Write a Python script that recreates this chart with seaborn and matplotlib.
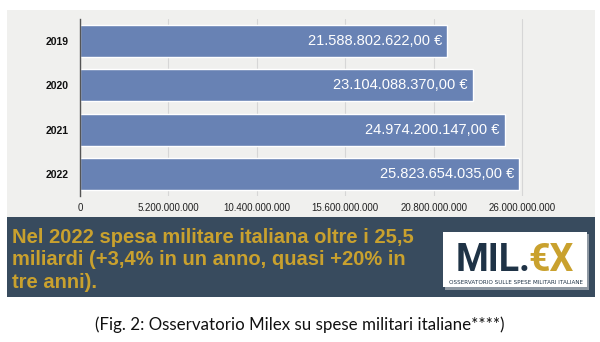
import matplotlib
matplotlib.use("Agg")
import matplotlib.pyplot as plt
from matplotlib.patches import Rectangle
from matplotlib.ticker import FuncFormatter
import seaborn as sns
import pandas as pd

# ---- data ----
anni = ["2019", "2020", "2021", "2022"]
spesa = [21588802622, 23104088370, 24974200147, 25823654035]
etichette = ["21.588.802.622,00 €", "23.104.088.370,00 €",
             "24.974.200.147,00 €", "25.823.654.035,00 €"]
x_ticks = [0, 5200000000, 10400000000, 15600000000, 20800000000, 26000000000]
titolo = "Nel 2022 spesa militare italiana oltre i 25,5\nmiliardi (+3,4% in un anno, quasi +20% in\ntre anni)."
didascalia = "(Fig. 2: Osservatorio Milex su spese militari italiane****)"

BAR = "#6882b4"
PANEL = "#f0f0ee"
BAND = "#384b5e"
GOLD = "#c9a12e"
NAVY = "#1f3346"

sns.set_theme(style="white")
plt.rcParams["font.family"] = ["Liberation Sans", "DejaVu Sans"]

W, H = 600, 342
fig = plt.figure(figsize=(W / 100, H / 100), dpi=100)
fig.patch.set_facecolor("white")

def fx(px):
    return px / W

def fy(py):
    return 1 - py / H

# grey panel behind the chart
fig.patches.append(Rectangle((fx(7), fy(217)), fx(588), (217 - 10) / H,
                             transform=fig.transFigure, facecolor=PANEL,
                             edgecolor="none", zorder=-10))
# dark band
fig.patches.append(Rectangle((fx(7), fy(297)), fx(588), (297 - 217) / H,
                             transform=fig.transFigure, facecolor=BAND,
                             edgecolor="none", zorder=-10))

ax = fig.add_axes([fx(80), fy(196), fx(510), (196 - 19) / H])
ax.set_facecolor("none")
ax.set_zorder(1)

df = pd.DataFrame({"anno": anni, "spesa": spesa})
sns.barplot(data=df, x="spesa", y="anno", color=BAR, saturation=1,
            width=0.72, ax=ax, zorder=3)

ax.set_xlim(0, 30000000000)
ax.set_ylim(3.5, -0.5)
ax.set_xticks(x_ticks)
ax.xaxis.set_major_formatter(FuncFormatter(lambda v, p: f"{int(v):,}".replace(",", ".")))
ax.set_xlabel("")
ax.set_ylabel("")
ax.tick_params(axis="x", length=0, pad=5, labelsize=7, colors="#222222")
ax.tick_params(axis="y", length=0, pad=8, labelsize=7.5, colors="#111111")
for t in ax.get_yticklabels():
    t.set_fontweight("bold")
ax.grid(axis="x", color="#d6d6d6", linewidth=0.8, zorder=0)
ax.grid(axis="y", visible=False)
ax.set_axisbelow(True)
for s in ["top", "right", "bottom"]:
    ax.spines[s].set_visible(False)
ax.spines["left"].set_color("#555555")
ax.spines["left"].set_linewidth(1)
ax.spines["left"].set_zorder(4)

for i, (v, lab) in enumerate(zip(spesa, etichette)):
    ax.text(v - 300000000, i, lab, ha="right", va="center", color="white",
            fontsize=10.5, zorder=5)

# band text
fig.text(fx(12), fy(228), titolo, ha="left", va="top", color=GOLD,
         fontsize=14.5, fontweight="bold", linespacing=1.22,
         family=["Liberation Sans", "DejaVu Sans"])

# logo
fig.patches.append(Rectangle((fx(445), fy(290)), fx(144), (290 - 234) / H,
                             transform=fig.transFigure, facecolor="#8e98a2",
                             edgecolor="none", zorder=1))
fig.patches.append(Rectangle((fx(443), fy(287)), fx(144), (287 - 232) / H,
                             transform=fig.transFigure, facecolor="white",
                             edgecolor="none", zorder=2))
fig.text(fx(456), fy(271), "MIL.", ha="left", va="baseline", color=NAVY,
         fontsize=27, fontweight="bold",
         family=["Roboto", "DejaVu Sans"], zorder=3)
fig.text(fx(528), fy(271), "€X", ha="left", va="baseline", color=GOLD,
         fontsize=27, fontweight="bold",
         family=["Roboto", "DejaVu Sans"], zorder=3)
fig.text(fx(516), fy(282.5), "OSSERVATORIO SULLE SPESE MILITARI ITALIANE",
         ha="center", va="center", color=NAVY, fontsize=4.1, zorder=3,
         family=["DejaVu Sans"])

# caption
fig.text(0.5, fy(325), didascalia, ha="center", va="center", color="#111111",
         fontsize=12.2, family=["Lato", "DejaVu Sans"])

fig.savefig("out.png", dpi=100)
